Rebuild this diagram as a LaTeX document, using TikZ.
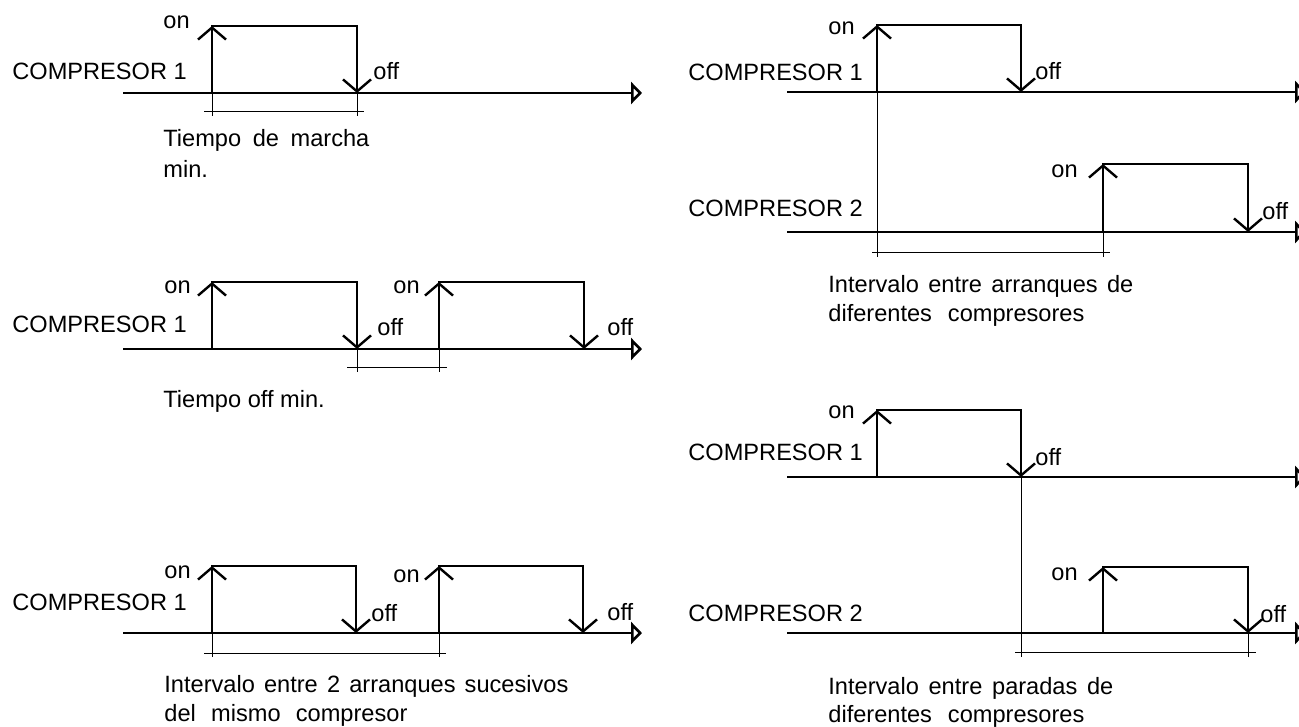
\documentclass[tikz,border=0pt]{standalone}
\usepackage{fontspec}
\setmainfont{Liberation Sans}
\usetikzlibrary{arrows.meta}

\begin{document}
\begin{tikzpicture}[
  x=0.5pt, y=-0.5pt,
  sig/.style={line width=1.4pt, line join=miter},
  tl/.style={line width=1.3pt, -{Triangle[open, length=5.5pt, width=11pt]}},
  ev/.style={line width=1.2pt, -{Straight Barb[length=6pt, width=14pt]}},
  dim/.style={line width=0.5pt},
  lb/.style={inner sep=0pt, anchor=base west, font=\fontsize{11.8pt}{14pt}\selectfont}
]
\useasboundingbox (0,0) rectangle (1299,727);

% time axes
\foreach \a in {93,349,633} \draw[tl] (123,\a) -- (642,\a);
\foreach \a in {92,232,477,633} \draw[tl] (787,\a) -- (1306,\a);

% pulses: rise / fall / top / axis
\foreach \r/\f/\t/\a in {212/357/26/93, 212/357/282/349, 439/584/282/349,
    212/356/566/633, 439/583/566/633, 877/1021/25/92, 1103/1248/164/232,
    877/1021/410/477, 1103/1248/567/633} {
  \draw[sig] (\r,\a) -- (\r,\t) -- (\f,\t) -- (\f,\a) -- cycle;
  \draw[ev] (\r,\a) -- (\r,\t);
  \draw[ev] (\f,\t) -- (\f,\a);
}

% intervals
\draw[dim] (204,112) -- (364,112);
\draw[dim] (212,93) -- (212,116);
\draw[dim] (357,93) -- (357,116);
\draw[dim] (347,367) -- (447,367);
\draw[dim] (357,349) -- (357,372);
\draw[dim] (439,349) -- (439,372);
\draw[dim] (204,653) -- (446,653);
\draw[dim] (212,633) -- (212,657);
\draw[dim] (439,633) -- (439,657);
\draw[dim] (872,252) -- (1110,252);
\draw[dim] (877,92) -- (877,257);
\draw[dim] (1103,232) -- (1103,257);
\draw[dim] (1015,652) -- (1256,652);
\draw[dim] (1021,477) -- (1021,657);
\draw[dim] (1248,633) -- (1248,657);

% labels
\node[lb] (aon) at (163,29) {on};
\node[lb] (ac1) at (12,80) {COMPRESOR 1};
\node[lb] (aoff) at (373,80) {off};
\node[lb] (atx1) at (163,147) {\makebox[103pt][s]{Tiempo de marcha}};
\node[lb] (atx2) at (163,177) {min.};

\node[lb] (bon1) at (164,293) {on};
\node[lb] (bon2) at (393,293) {on};
\node[lb] (bc1) at (12,332) {COMPRESOR 1};
\node[lb] (boff1) at (377,335) {off};
\node[lb] (boff2) at (607,335) {off};
\node[lb] (btx) at (163,407) {Tiempo off min.};

\node[lb] (con1) at (164,578) {on};
\node[lb] (con2) at (393,582) {on};
\node[lb] (cc1) at (12,610) {COMPRESOR 1};
\node[lb] (coff1) at (371,621) {off};
\node[lb] (coff2) at (607,620) {off};
\node[lb] (ctx1) at (164,692) {\makebox[202pt][s]{Intervalo entre 2 arranques sucesivos}};
\node[lb] (ctx2) at (164,721) {\makebox[121.5pt][s]{del mismo compresor}};

\node[lb] (don1) at (828,35) {on};
\node[lb] (don2) at (1051,178) {on};
\node[lb] (dc1) at (688,81) {COMPRESOR 1};
\node[lb] (dc2) at (688,217) {COMPRESOR 2};
\node[lb] (doff1) at (1035,80) {off};
\node[lb] (doff2) at (1262,220) {off};
\node[lb] (dtx1) at (828,292) {\makebox[152.5pt][s]{Intervalo entre arranques de}};
\node[lb] (dtx2) at (828,321) {\makebox[128pt][s]{diferentes compresores}};

\node[lb] (eon1) at (828,418) {on};
\node[lb] (eon2) at (1051,580) {on};
\node[lb] (ec1) at (688,460) {COMPRESOR 1};
\node[lb] (ec2) at (688,621) {COMPRESOR 2};
\node[lb] (eoff1) at (1035,465) {off};
\node[lb] (eoff2) at (1260,622) {off};
\node[lb] (etx1) at (828,694) {\makebox[142.5pt][s]{Intervalo entre paradas de}};
\node[lb] (etx2) at (828,722) {\makebox[128pt][s]{diferentes compresores}};
\end{tikzpicture}
\end{document}
